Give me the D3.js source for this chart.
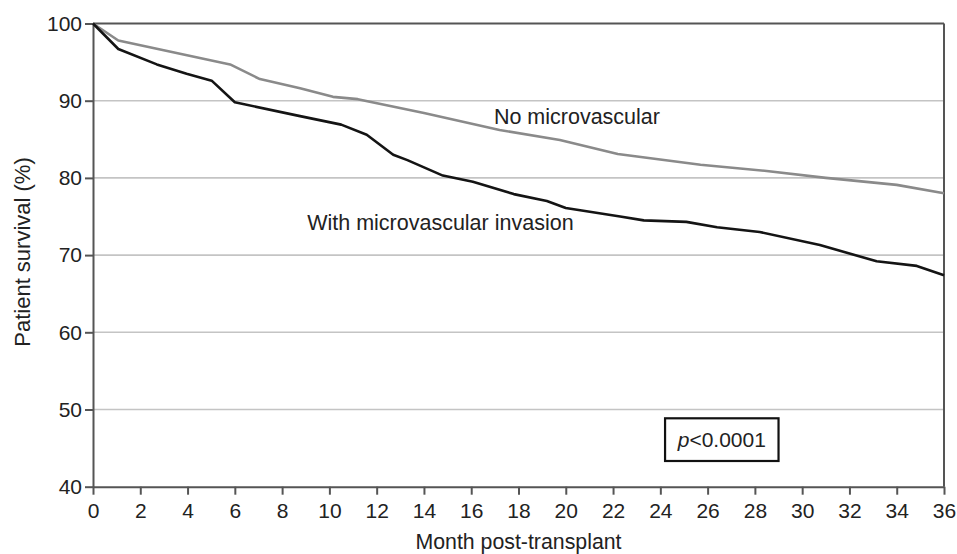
<!DOCTYPE html>
<html>
<head>
<meta charset="utf-8">
<script src="https://cdn.jsdelivr.net/npm/d3@7"></script>
<style>
  html, body { margin: 0; padding: 0; background: #fff; }
  svg { display: block; font-family: "Liberation Sans", Arial, sans-serif; }
</style>
</head>
<body>
<svg id="chart" width="957" height="554"></svg>
<script>
// Kaplan–Meier style survival curves, months 0–36
const noMviMonths = [0, 1.07, 5.8, 7.06, 8.76, 10.15, 11.2, 14, 17.2, 19.75, 22.2, 25.7, 28.5, 31.0, 34.0, 36];
const noMviSurvival = [100, 97.8, 94.7, 92.8, 91.6, 90.5, 90.2, 88.4, 86.2, 84.9, 83.1, 81.7, 80.9, 80.0, 79.1, 78.0];

const mviMonths = [0, 1.07, 2.7, 3.96, 5.02, 6.0, 8.76, 10.5, 11.58, 12.7, 13.3, 14.8, 16.07, 17.8, 19.2, 20.0, 22.3, 23.3, 25.1, 26.4, 28.2, 30.75, 33.15, 34.85, 36];
const mviSurvival = [100, 96.7, 94.7, 93.5, 92.6, 89.8, 88.0, 86.9, 85.6, 83.0, 82.3, 80.3, 79.5, 77.9, 77.0, 76.1, 75.0, 74.5, 74.3, 73.6, 73.0, 71.3, 69.2, 68.6, 67.4];

const xTicks = d3.range(0, 37, 2);
const yTicks = [40, 50, 60, 70, 80, 90, 100];

const svg = d3.select("#chart");
const margin = { left: 93, right: 13, top: 23.5, bottom: 67.3 };
const W = 957, H = 554;

const x = d3.scaleLinear().domain([0, 36]).range([margin.left, W - margin.right]);
const y = d3.scaleLinear().domain([40, 100]).range([H - margin.bottom, margin.top]);

const axisColor = "#555";
const textColor = "#222";

// horizontal gridlines
svg.append("g")
  .selectAll("line")
  .data([50, 60, 70, 80, 90])
  .join("line")
  .attr("x1", x(0)).attr("x2", x(36))
  .attr("y1", d => y(d)).attr("y2", d => y(d))
  .attr("stroke", "#c4c4c4")
  .attr("stroke-width", 1.6);

// top and right frame
svg.append("line")
  .attr("x1", x(0)).attr("x2", x(36)).attr("y1", y(100)).attr("y2", y(100))
  .attr("stroke", axisColor).attr("stroke-width", 2);
svg.append("line")
  .attr("x1", x(36)).attr("x2", x(36)).attr("y1", y(100)).attr("y2", y(40))
  .attr("stroke", axisColor).attr("stroke-width", 2);

// axes
const gx = svg.append("g")
  .attr("transform", `translate(0,${y(40)})`)
  .call(d3.axisBottom(x).tickValues(xTicks).tickSize(8).tickPadding(8).tickSizeOuter(0));
const gy = svg.append("g")
  .attr("transform", `translate(${x(0)},0)`)
  .call(d3.axisLeft(y).tickValues(yTicks).tickSize(8).tickPadding(3).tickSizeOuter(0));

[gx, gy].forEach(g => {
  g.select(".domain").attr("stroke", axisColor).attr("stroke-width", 2);
  g.selectAll(".tick line").attr("stroke", axisColor).attr("stroke-width", 2);
  g.selectAll(".tick text")
    .attr("fill", textColor)
    .style("font-size", "21px")
    .style("font-family", "'Liberation Sans', Arial, sans-serif");
});

// survival curves
const line = d3.line().x(d => x(d[0])).y(d => y(d[1]));

svg.append("path")
  .datum(d3.zip(noMviMonths, noMviSurvival))
  .attr("d", line)
  .attr("fill", "none")
  .attr("stroke", "#8a8a8a")
  .attr("stroke-width", 2.6)
  .attr("stroke-linejoin", "round");

svg.append("path")
  .datum(d3.zip(mviMonths, mviSurvival))
  .attr("d", line)
  .attr("fill", "none")
  .attr("stroke", "#141414")
  .attr("stroke-width", 2.6)
  .attr("stroke-linejoin", "round");

// curve labels
svg.append("text")
  .attr("x", x(16.96)).attr("y", y(87.0))
  .attr("fill", textColor)
  .style("font-size", "21.5px")
  .text("No microvascular");

svg.append("text")
  .attr("x", x(9.06)).attr("y", y(73.3))
  .attr("fill", textColor)
  .style("font-size", "21.5px")
  .text("With microvascular invasion");

// axis titles
svg.append("text")
  .attr("transform", `translate(30,252) rotate(-90)`)
  .attr("text-anchor", "middle")
  .attr("fill", textColor)
  .style("font-size", "22px")
  .text("Patient survival (%)");

svg.append("text")
  .attr("x", (x(0) + x(36)) / 2)
  .attr("y", 549)
  .attr("text-anchor", "middle")
  .attr("fill", textColor)
  .style("font-size", "21.3px")
  .text("Month post-transplant");

// p-value annotation box
const boxX0 = x(24.2), boxX1 = x(29.0), boxY0 = y(48.86), boxY1 = y(43.33);
svg.append("rect")
  .attr("x", boxX0).attr("y", boxY0)
  .attr("width", boxX1 - boxX0).attr("height", boxY1 - boxY0)
  .attr("fill", "#fff")
  .attr("stroke", "#111")
  .attr("stroke-width", 2.2);

const pText = svg.append("text")
  .attr("x", (boxX0 + boxX1) / 2)
  .attr("y", (boxY0 + boxY1) / 2 + 7.5)
  .attr("text-anchor", "middle")
  .attr("fill", textColor)
  .style("font-size", "21px");
pText.append("tspan").style("font-style", "italic").text("p");
pText.append("tspan").text("<0.0001");
</script>
</body>
</html>
